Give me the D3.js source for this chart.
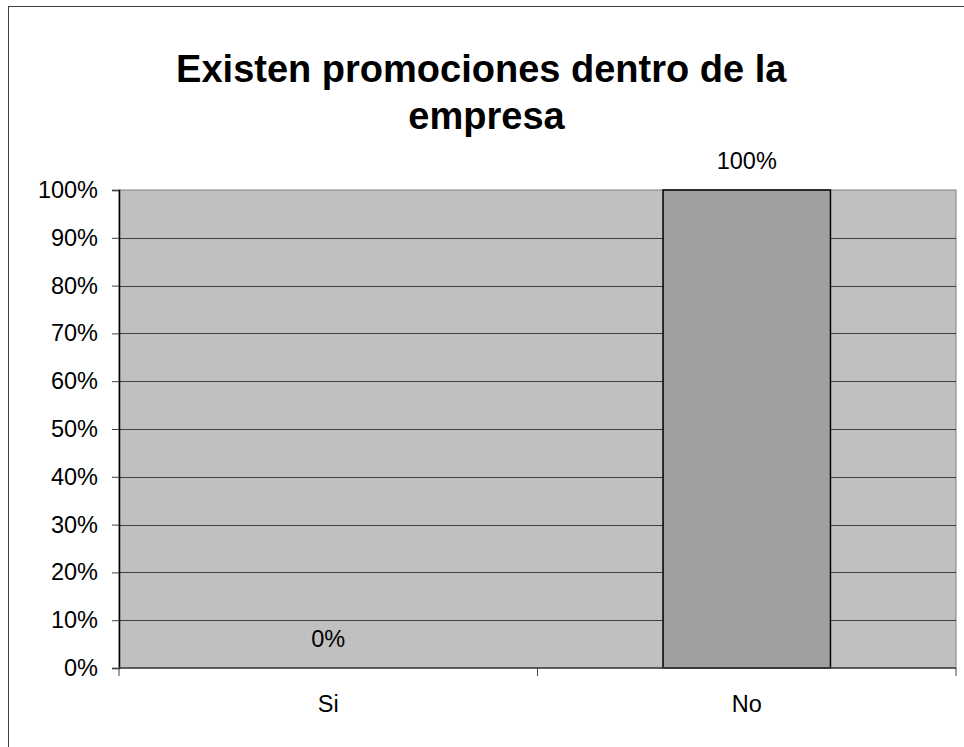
<!DOCTYPE html>
<html lang="es">
<head>
<meta charset="UTF-8">
<title>Existen promociones dentro de la empresa</title>
<script src="https://d3js.org/d3.v7.min.js"></script>
<style>
    body { margin: 0; background: #fff; font-family: Arial, "Liberation Sans", sans-serif; }
    svg text { font-family: Arial, "Liberation Sans", sans-serif; }
    .title { white-space: pre; }
</style>
</head>
<body>
<script>
// data
const categories = ["Si", "No"];
const values = [0, 1];
const yTicks = [0, 0.1, 0.2, 0.3, 0.4, 0.5, 0.6, 0.7, 0.8, 0.9, 1];
const titleLines = ["Existen promociones dentro de la ", "empresa"];

const width = 964, height = 747;
const margin = {top: 190, right: 8, bottom: 79, left: 119};
const plotW = width - margin.left - margin.right;
const plotH = height - margin.top - margin.bottom;
const labelSize = "23.5px";

const svg = d3.select("body").append("svg")
    .attr("width", width)
    .attr("height", height);

// outer chart border (right/bottom run off the picture)
svg.append("rect")
    .attr("x", 8.5).attr("y", 6.5)
    .attr("width", 970).attr("height", 760)
    .attr("fill", "none")
    .attr("stroke", "#404040")
    .attr("stroke-width", 1);

// title (line 1 keeps its trailing space, like the wrapped original)
svg.append("text")
    .attr("class", "title")
    .attr("x", 486.5)
    .attr("y", 82)
    .attr("text-anchor", "middle")
    .attr("font-size", "38px")
    .attr("font-weight", "bold")
    .attr("fill", "#000")
    .selectAll("tspan")
    .data(titleLines)
    .enter().append("tspan")
    .attr("x", 486.5)
    .attr("dy", (d, i) => i === 0 ? 0 : 46.5)
    .text(d => d);

const x = d3.scaleBand()
    .domain(categories)
    .range([0, plotW])
    .paddingInner(0)
    .paddingOuter(0);

const y = d3.scaleLinear()
    .domain([0, 1])
    .range([plotH, 0]);

const g = svg.append("g")
    .attr("transform", `translate(${margin.left},${margin.top})`);

// plot area
g.append("rect")
    .attr("width", plotW)
    .attr("height", plotH)
    .attr("fill", "#C0C0C0")
    .attr("stroke", "#808080")
    .attr("stroke-width", 1);

// gridlines
g.selectAll(".grid")
    .data(yTicks.slice(1, -1))
    .enter().append("line")
    .attr("x1", 0).attr("x2", plotW)
    .attr("y1", d => Math.round(y(d)) + 0.5)
    .attr("y2", d => Math.round(y(d)) + 0.5)
    .attr("stroke", "#404040")
    .attr("stroke-width", 1);

// bars (gap width 150%)
const barW = x.bandwidth() / 2.5;
g.selectAll(".bar")
    .data(values)
    .enter().append("rect")
    .attr("class", "bar")
    .attr("x", (d, i) => x(categories[i]) + (x.bandwidth() - barW) / 2)
    .attr("y", d => y(d))
    .attr("width", barW)
    .attr("height", d => plotH - y(d))
    .attr("fill", "#A0A0A0")
    .attr("stroke", "#000")
    .attr("stroke-width", d => d > 0 ? 1.5 : 0);

// data labels
g.selectAll(".lbl")
    .data(values)
    .enter().append("text")
    .attr("x", (d, i) => x(categories[i]) + x.bandwidth() / 2)
    .attr("y", d => y(d) - 21)
    .attr("text-anchor", "middle")
    .attr("font-size", labelSize)
    .attr("fill", "#000")
    .text(d => d3.format(".0%")(d));

// y axis
const yAxis = g.append("g")
    .call(d3.axisLeft(y).tickValues(yTicks).tickFormat(d3.format(".0%")).tickSize(7).tickPadding(14));
yAxis.select(".domain").attr("stroke", "#000").attr("stroke-width", 1.5);
yAxis.selectAll(".tick line").attr("stroke", "#404040");
yAxis.selectAll(".tick text").attr("font-size", labelSize).attr("fill", "#000")
    .attr("font-family", "Arial, 'Liberation Sans', sans-serif");

// x axis
const xAxis = g.append("g")
    .attr("transform", `translate(0,${plotH})`);
xAxis.append("line")
    .attr("x1", 0).attr("x2", plotW)
    .attr("stroke", "#404040").attr("stroke-width", 1.5);
xAxis.selectAll(".xt")
    .data(d3.range(categories.length + 1))
    .enter().append("line")
    .attr("x1", i => i * x.bandwidth()).attr("x2", i => i * x.bandwidth())
    .attr("y1", 0).attr("y2", 8)
    .attr("stroke", "#404040");
xAxis.selectAll(".xl")
    .data(categories)
    .enter().append("text")
    .attr("x", d => x(d) + x.bandwidth() / 2)
    .attr("y", 44)
    .attr("text-anchor", "middle")
    .attr("font-size", labelSize)
    .attr("fill", "#000")
    .text(d => d);
</script>
</body>
</html>
